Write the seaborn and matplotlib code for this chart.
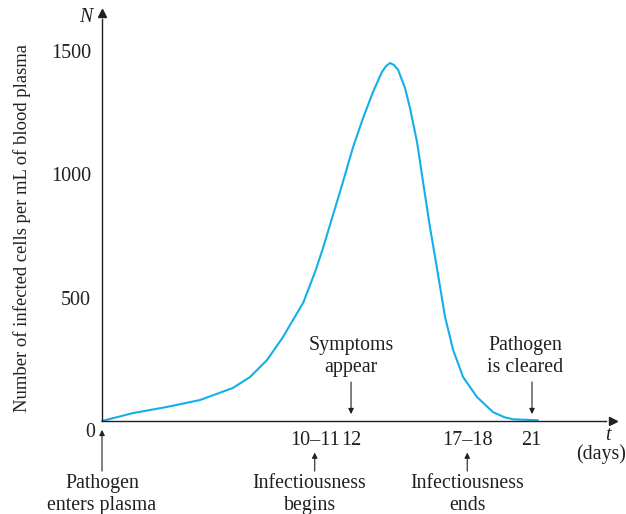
import matplotlib
matplotlib.use("Agg")
import matplotlib.pyplot as plt
import seaborn as sns
import pandas as pd

# curve (days, infected cells per mL)
days = [0, 1.49, 3.13, 4.72, 6.31, 7.13, 7.95, 8.72, 9.06, 9.7, 10.27, 10.65, 11.13,
        11.61, 12.10, 12.58, 13.06, 13.49, 13.69, 13.88, 14.07, 14.27, 14.60,
        14.84, 15.18, 15.47, 15.81, 16.14, 16.53, 16.92, 17.40, 18.07, 18.84,
        19.4, 19.81, 21.0]
cells = [0, 32, 57, 85, 134, 178, 247, 340, 389, 480, 605, 701, 835,
         969, 1111, 1228, 1334, 1415, 1439, 1451, 1443, 1423, 1350,
         1269, 1131, 969, 782, 620, 422, 288, 178, 97, 36,
         15, 7, 3]

y_ticks = [500, 1000, 1500]
x_tick_pos = [10.25, 12, 17.6, 20.7]
x_tick_labels = ["10\u201311", "12", "17\u201318", "21"]

df = pd.DataFrame({"t": days, "N": cells})

sns.set_theme(style="white")
plt.rcParams["font.family"] = ["Liberation Serif", "DejaVu Serif"]
plt.rcParams["font.size"] = 14.3
ink = "#231f20"

fig = plt.figure(figsize=(6.26, 5.14), dpi=100)
ax = fig.add_axes([0, 0, 1, 1])
ax.set_xlim(-4.916, 25.25)
ax.set_ylim(-377, 1706.5)

sns.lineplot(data=df, x="t", y="N", color="#14afea", lw=1.5, ax=ax)

# axes through the origin
for s in ["top", "right"]:
    ax.spines[s].set_visible(False)
ax.spines["left"].set_position(("data", 0))
ax.spines["bottom"].set_position(("data", 0))
ax.spines["left"].set_bounds(0, 1630)
ax.spines["bottom"].set_bounds(0, 24.3)
for s in ["left", "bottom"]:
    ax.spines[s].set_color(ink)
    ax.spines[s].set_linewidth(1.0)
ax.plot(0, 1655, marker="^", color=ink, ms=6, clip_on=False)
ax.plot(24.6, 0, marker=">", color=ink, ms=6, clip_on=False)

ax.set_yticks(y_ticks)
ax.set_yticklabels([str(v) for v in y_ticks])
ax.set_xticks(x_tick_pos)
ax.set_xticklabels(x_tick_labels)
ax.tick_params(axis="both", direction="inout", length=8, width=0.9, color=ink,
               labelcolor=ink, labelsize=14.5)
ax.tick_params(axis="y", pad=4)
ax.tick_params(axis="x", pad=3)
ax.set_xlabel("")
ax.set_ylabel("Number of infected cells per mL of blood plasma", color=ink, fontsize=13.4)
ax.yaxis.set_label_coords(-3.4, 782, transform=ax.transData)

ax.text(-0.55, -45, "0", ha="center", va="center", color=ink)
ax.text(-0.8, 1635, "N", style="italic", ha="center", va="center", color=ink)
ax.text(24.4, -60, "t", style="italic", ha="center", va="center", color=ink)
ax.text(24.05, -133, "(days)", ha="center", va="center", color=ink)

arrow = dict(arrowstyle="-|>", color=ink, lw=0.8, mutation_scale=8, shrinkA=0, shrinkB=0)
lsp = 1.2

# events above the axis
ax.text(12, 263, "Symptoms\nappear", ha="center", va="center", color=ink, linespacing=lsp)
ax.annotate("", xy=(12, 28), xytext=(12, 158), arrowprops=arrow)
ax.text(20.4, 263, "Pathogen\nis cleared", ha="center", va="center", color=ink, linespacing=lsp)
ax.annotate("", xy=(20.72, 28), xytext=(20.72, 158), arrowprops=arrow)

# events below the axis
ax.text(0, -297, "Pathogen\nenters plasma", ha="center", va="center", color=ink, linespacing=lsp)
ax.annotate("", xy=(0, -36), xytext=(0, -203), arrowprops=arrow)
ax.text(10.0, -297, "Infectiousness\nbegins", ha="center", va="center", color=ink, linespacing=lsp)
ax.annotate("", xy=(10.25, -128), xytext=(10.25, -203), arrowprops=arrow)
ax.text(17.6, -297, "Infectiousness\nends", ha="center", va="center", color=ink, linespacing=lsp)
ax.annotate("", xy=(17.6, -128), xytext=(17.6, -203), arrowprops=arrow)

fig.savefig("out.png", dpi=100)
